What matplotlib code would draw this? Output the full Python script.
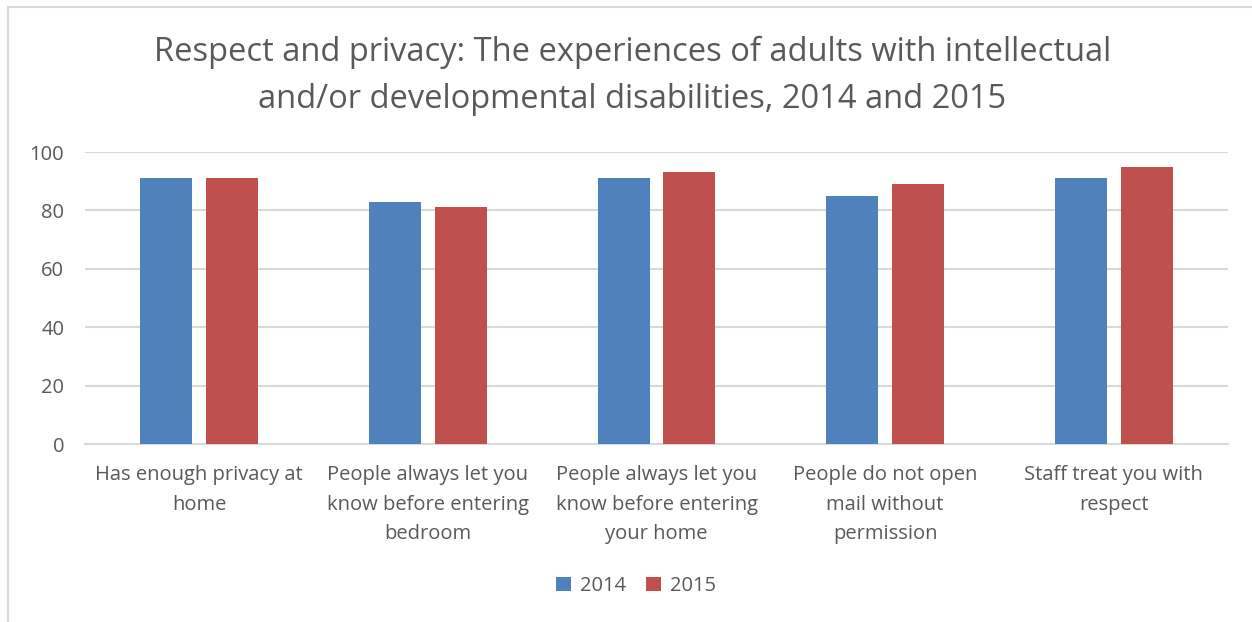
import matplotlib.pyplot as plt
import numpy as np
from matplotlib.patches import Rectangle

categories = [
    "Has enough privacy at\nhome",
    "People always let you\nknow before entering\nbedroom",
    "People always let you\nknow before entering\nyour home",
    "People do not open\nmail without\npermission",
    "Staff treat you with\nrespect",
]
years = ["2014", "2015"]
values_2014 = [91, 83, 91, 85, 91]
values_2015 = [91, 81, 93, 89, 95]
yticks = [0, 20, 40, 60, 80, 100]

blue = "#4f81bd"
red = "#c0504d"
text_col = "#595959"
grid_col = "#d9d9d9"

plt.rcParams["font.family"] = ["Open Sans", "DejaVu Sans"]

W, H = 1252, 622
fig = plt.figure(figsize=(W / 100, H / 100), dpi=100)

# thin chart frame (left and top edges visible)
fig.patches.append(Rectangle((8 / W, -0.1), 1.2, 1 - 7 / H + 0.1,
                             transform=fig.transFigure, fill=False,
                             edgecolor="#d9d9d9", linewidth=1.5))

ax = fig.add_axes([85 / W, 1 - 444 / H, (1228 - 85) / W, (444 - 152) / H])

x = np.arange(len(categories))
w = 0.227
off = 0.144
ax.bar(x - off, values_2014, width=w, color=blue, label=years[0], zorder=3)
ax.bar(x + off, values_2015, width=w, color=red, label=years[1], zorder=3)

ax.set_xlim(-0.5, len(categories) - 0.5)
ax.set_ylim(0, 100)
ax.set_yticks(yticks)
ax.yaxis.grid(True, color=grid_col, linewidth=1.5, zorder=0)
for s in ["top", "right", "left"]:
    ax.spines[s].set_visible(False)
ax.spines["bottom"].set_color(grid_col)
ax.spines["bottom"].set_linewidth(1.5)
ax.tick_params(axis="both", length=0, labelsize=14.5, labelcolor=text_col)
ax.tick_params(axis="y", pad=15)
ax.tick_params(axis="x", pad=15)
ax.set_xticks(x)
ax.set_xticklabels(categories, linespacing=1.65)

fig.text(0.505, 1 - 76 / H,
         "Respect and privacy: The experiences of adults with intellectual\n"
         "and/or developmental disabilities, 2014 and 2015",
         ha="center", va="center", fontsize=23.5, color=text_col, linespacing=1.55)

fig.legend(loc="center", bbox_to_anchor=(0.508, 1 - 586 / H), ncol=2, frameon=False,
           fontsize=14.5, labelcolor=text_col, handlelength=0.75, handleheight=0.75,
           handletextpad=0.45, columnspacing=1.0)

fig.savefig("out.png", dpi=100, facecolor="white")
